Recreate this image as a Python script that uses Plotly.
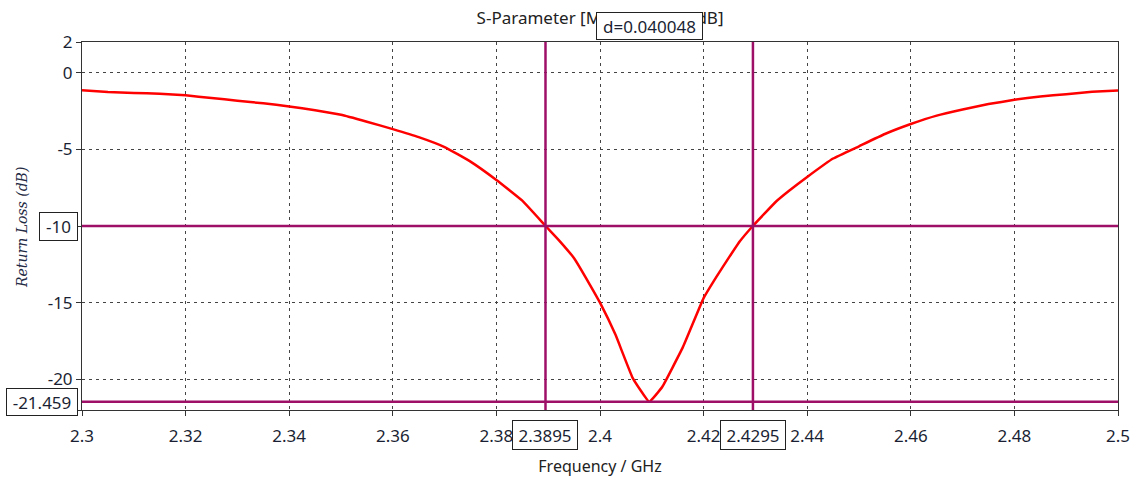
import plotly.graph_objects as go

# Return-loss sweep of the antenna (GHz, dB)
freq_ghz = [2.300, 2.305, 2.310, 2.315, 2.320, 2.325, 2.330, 2.335, 2.340, 2.345,
            2.350, 2.355, 2.360, 2.365, 2.370, 2.375, 2.380, 2.385, 2.3895, 2.392,
            2.395, 2.398, 2.400, 2.403, 2.4063, 2.4095, 2.412, 2.416, 2.420, 2.4225,
            2.425, 2.427, 2.4295, 2.434, 2.4365, 2.440, 2.445, 2.450, 2.455, 2.460,
            2.465, 2.470, 2.475, 2.480, 2.485, 2.490, 2.495, 2.500]
s11_db = [-1.15, -1.26, -1.32, -1.38, -1.48, -1.65, -1.83, -2.00, -2.20, -2.45,
          -2.75, -3.20, -3.68, -4.20, -4.85, -5.80, -7.00, -8.35, -10.00, -10.90,
          -12.10, -13.80, -15.00, -17.10, -19.90, -21.459, -20.50, -17.90, -14.70, -13.30,
          -12.00, -11.00, -10.00, -8.40, -7.70, -6.80, -5.60, -4.80, -4.00, -3.35,
          -2.80, -2.40, -2.05, -1.77, -1.55, -1.40, -1.25, -1.16]

# Markers: two frequency cursors and two level cursors
marker_freqs = [2.389476, 2.429524]
marker_levels = [-10.0, -21.459]

x_ticks = [2.30, 2.32, 2.34, 2.36, 2.38, 2.40, 2.42, 2.44, 2.46, 2.48, 2.50]
x_tick_text = ["2.3", "2.32", "2.34", "2.36", "2.38", "2.4", "2.42", "2.44", "2.46", "2.48", "2.5"]
y_ticks = [2, 0, -5, -10, -15, -20, -22]
y_tick_text = ["2", "0", "-5", "-10", "-15", "-20", "-22"]

x_range = [2.3, 2.5]
y_range = [-22, 2]

CURSOR = "#9e1068"
TXT = "#1b1f33"
FONT = "Noto Sans"

fig = go.Figure()
fig.add_trace(go.Scatter(x=freq_ghz, y=s11_db, mode="lines",
                         line=dict(color="#ff0000", width=2.5, shape="spline", smoothing=0.3),
                         showlegend=False, hoverinfo="x+y"))

shapes = []
for f in marker_freqs:
    shapes.append(dict(type="line", xref="x", yref="y", x0=f, x1=f,
                       y0=y_range[0], y1=y_range[1],
                       line=dict(color=CURSOR, width=2.5)))
for lv in marker_levels:
    shapes.append(dict(type="line", xref="x", yref="y", x0=x_range[0], x1=x_range[1],
                       y0=lv, y1=lv, line=dict(color=CURSOR, width=2.5)))

box = dict(bgcolor="white", bordercolor="#222", borderwidth=1, borderpad=3,
           showarrow=False, font=dict(family=FONT, size=17, color=TXT))

annotations = []
for f in marker_freqs:
    annotations.append(dict(box, text=f"{f:.4f}", xref="x", x=f, xanchor="center",
                            yref="paper", y=0, yanchor="middle", yshift=-25,
                            width=58, height=22))
annotations.append(dict(box, text=f"{marker_levels[0]:g}", xref="paper", x=0,
                        xanchor="center", xshift=-24, yref="y", y=marker_levels[0],
                        yanchor="middle", width=31, height=21))
annotations.append(dict(box, text=f"{marker_levels[1]:.3f}", xref="paper", x=0,
                        xanchor="center", xshift=-40, yref="y", y=marker_levels[1],
                        yanchor="middle", width=64, height=20))
delta = marker_freqs[1] - marker_freqs[0]
annotations.append(dict(box, text=f"d={delta:.6f}", xref="x", x=sum(marker_freqs) / 2,
                        xanchor="center", yref="paper", y=1, yanchor="middle", yshift=16,
                        width=99, height=20))
annotations.append(dict(text="<i>Return Loss (dB)</i>", textangle=-90, showarrow=False,
                        xref="paper", x=0, xanchor="center", xshift=-60,
                        yref="paper", y=0.5, yshift=-2,
                        font=dict(family="DejaVu Serif", size=14, color="#1f2a44")))

axis_common = dict(showline=True, linecolor="#333", linewidth=1, mirror=True,
                   ticks="outside", ticklen=5, tickcolor="#333", automargin=False,
                   showgrid=True, gridcolor="#444", gridwidth=1, griddash="3px,4px",
                   zeroline=False, tickfont=dict(family=FONT, size=17, color=TXT))

fig.update_layout(
    width=1138, height=480,
    margin=dict(l=82, r=20, t=42, b=70),
    paper_bgcolor="white", plot_bgcolor="white",
    title=dict(text="S-Parameter [Magnitude in dB]", x=0.5273, xanchor="center",
               yref="container", y=1 - 18 / 480, yanchor="middle",
               font=dict(family=FONT, size=17, color="#222")),
    xaxis=dict(axis_common, range=x_range, tickvals=x_ticks, ticktext=x_tick_text,
               ticklabelstandoff=6,
               title=dict(text="Frequency / GHz", standoff=14,
                          font=dict(family=FONT, size=16, color="#222"))),
    yaxis=dict(axis_common, range=y_range, tickvals=y_ticks, ticktext=y_tick_text),
    shapes=shapes,
    annotations=annotations,
)

fig.write_html("out.html")
